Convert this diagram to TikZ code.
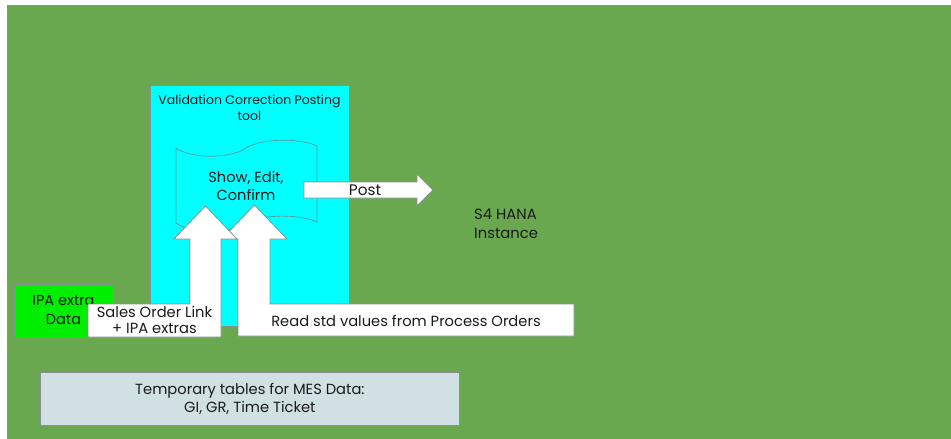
\documentclass[tikz,border=0pt]{standalone}
\usepackage{fontspec}
\setmainfont{Poppins}
\definecolor{bggreen}{HTML}{6AA84F}
\definecolor{boxcyan}{HTML}{00FFFF}
\definecolor{ipagreen}{HTML}{00EE00}
\definecolor{tmpfill}{HTML}{D0E0E3}
\definecolor{edge}{HTML}{8A9090}
\definecolor{tapeedge}{HTML}{5A9A9A}
\definecolor{txt}{HTML}{1A1A1A}
\begin{document}
\begin{tikzpicture}[x=1pt,y=-1pt,
  lbl/.style={text=txt, align=center, inner sep=0pt, font=\fontsize{14.7}{16.5}\selectfont},
  boxed/.style={draw=edge, line width=0.8pt, anchor=north west, inner sep=0pt},
  shp/.style={draw=edge, line width=0.8pt, fill=white, line join=miter}]
\useasboundingbox (0,0) rectangle (951,439);
\fill[white] (0,0) rectangle (951,439);
% background
\node[boxed, fill=bggreen, line width=1pt, minimum width=950pt, minimum height=440pt] (bg) at (7,5) {};
% tool box
\node[boxed, fill=boxcyan, minimum width=199pt, minimum height=241pt] (tool) at (150,85) {};
\node[lbl, font=\fontsize{12.5}{15.5}\selectfont] (tooltxt) at (249.5,108) {Validation Correction Posting\\tool};
% punched tape
\draw[tapeedge, line width=0.7pt, fill=boxcyan]
  (176,148) .. controls (192,159) and (230,159) .. (246,148)
  .. controls (262,138) and (301,138) .. (317,146)
  -- (317,222)
  .. controls (301,214) and (262,214) .. (246,223)
  .. controls (230,234) and (192,234) .. (176,223) -- cycle;
\node[lbl, font=\fontsize{14.6}{17.5}\selectfont] (tape) at (246,186) {Show, Edit,\\Confirm};
% post arrow
\draw[shp] (304,182) -- (417,182) -- (417,174) -- (433,190) -- (417,206) -- (417,198) -- (304,198) -- cycle;
\node[lbl, font=\fontsize{15.3}{17}\selectfont] (post) at (365,190) {Post};
% S4 HANA
\node[lbl, align=left, anchor=west, font=\fontsize{14.8}{19}\selectfont] (s4) at (474,224) {S4 HANA\\Instance};
% IPA extra box
\node[boxed, fill=ipagreen, minimum width=99pt, minimum height=53pt] (ipa) at (14,284) {};
\node[lbl, font=\fontsize{14.5}{19}\selectfont] (ipatxt) at (63.5,310.5) {IPA extra\\Data};
% read std callout
\draw[shp] (238,336) -- (574,336) -- (574,304) -- (270,304) -- (270,239) -- (287,239) -- (254.5,205) -- (222,239) -- (238,239) -- cycle;
\node[lbl] (readtxt) at (406,321) {Read std values from Process Orders};
% sales order callout
\draw[shp] (88,337) -- (221,337) -- (221,239) -- (237,239) -- (205.5,206) -- (174,239) -- (190,239) -- (190,304) -- (88,304) -- cycle;
\node[lbl] (salestxt) at (154.5,320) {Sales Order Link\\+ IPA extras};
% temporary tables
\node[boxed, fill=tmpfill, minimum width=419pt, minimum height=53pt] (tmp) at (40,372) {};
\node[lbl, font=\fontsize{14.7}{18}\selectfont] (tmptxt) at (tmp.center) {Temporary tables for MES Data:\\GI, GR, Time Ticket};
\end{tikzpicture}
\end{document}
